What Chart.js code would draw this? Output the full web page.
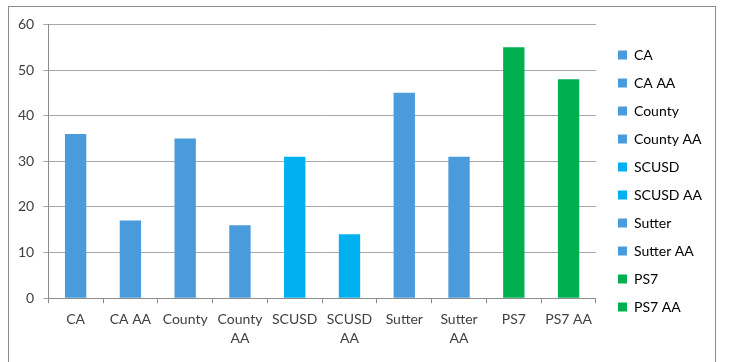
<!DOCTYPE html>
<html>
<head>
<meta charset="utf-8">
<script src="https://cdn.jsdelivr.net/npm/chart.js@4"></script>
<style>
  html, body { margin: 0; padding: 0; background: #fff; overflow: hidden; }
  #box {
    position: absolute; left: 8px; top: 6px;
    width: 706px; height: 370px;
    border: 1px solid #8c8c8c;
  }
  canvas { display: block; }
</style>
</head>
<body>
<div id="box"><canvas id="chart" width="706" height="350"></canvas></div>
<script>
const categories = ["CA", "CA AA", "County", "County AA", "SCUSD", "SCUSD AA", "Sutter", "Sutter AA", "PS7", "PS7 AA"];
const tickLabels = [["CA"], ["CA AA"], ["County"], ["County", "AA"], ["SCUSD"], ["SCUSD", "AA"], ["Sutter"], ["Sutter", "AA"], ["PS7"], ["PS7 AA"]];
const values = [36, 17, 35, 16, 31, 14, 45, 31, 55, 48];
const barColors = ["#4a9bdc", "#4a9bdc", "#4a9bdc", "#4a9bdc", "#00b0f0", "#00b0f0", "#4a9bdc", "#4a9bdc", "#00b050", "#00b050"];

const textColor = "#404040";
const font = { family: "Lato, 'Noto Sans', sans-serif", size: 14 };

const ctx = document.getElementById("chart").getContext("2d");

// push the legend a bit away from the plot, like the original
const legendGap = {
    id: "legendGap",
    afterLayout(chart) {
        chart.legend.left += 8;
        chart.legend.right += 8;
        chart.legend.top -= 4;
        chart.legend.bottom -= 4;
    }
};

new Chart(ctx, {
    type: "bar",
    data: {
        labels: tickLabels,
        datasets: [{
            data: values,
            backgroundColor: barColors,
            barPercentage: 0.39,
            categoryPercentage: 1
        }]
    },
    options: {
        responsive: false,
        animation: false,
        devicePixelRatio: 1,
        layout: { padding: { top: 8, left: 0, right: 11, bottom: 2 } },
        plugins: {
            tooltip: { enabled: false },
            legend: {
                position: "right",
                labels: {
                    color: textColor,
                    font: font,
                    boxWidth: 9,
                    boxHeight: 9,
                    padding: 14,
                    generateLabels: (chart) => categories.map((name, i) => ({
                        text: name,
                        fillStyle: barColors[i],
                        strokeStyle: barColors[i],
                        lineWidth: 0,
                        index: i,
                        hidden: false
                    }))
                }
            }
        },
        scales: {
            x: {
                grid: {
                    drawOnChartArea: false,
                    drawTicks: true,
                    tickLength: 5,
                    color: "#8c8c8c"
                },
                border: { color: "#8c8c8c" },
                ticks: {
                    color: textColor,
                    font: { ...font, lineHeight: 1.35 },
                    padding: 7,
                    maxRotation: 0,
                    autoSkip: false
                }
            },
            y: {
                min: 0,
                max: 60,
                grid: {
                    color: "#a6a6a6",
                    tickLength: 5
                },
                border: { color: "#8c8c8c" },
                ticks: {
                    stepSize: 10,
                    color: textColor,
                    font: font,
                    padding: 9
                }
            }
        }
    },
    plugins: [legendGap]
});
</script>
</body>
</html>
